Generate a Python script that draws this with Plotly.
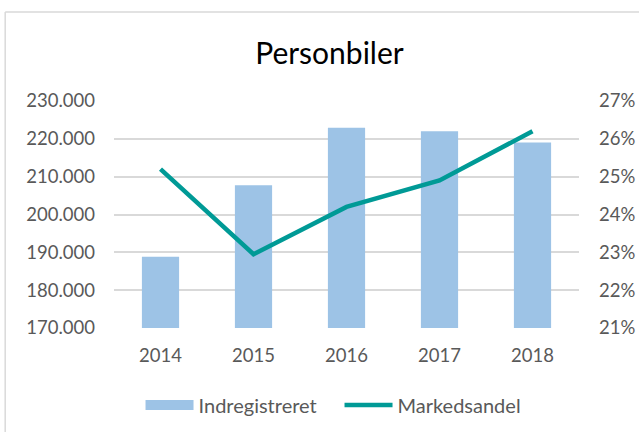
import plotly.graph_objects as go

years = ["2014", "2015", "2016", "2017", "2018"]
indregistreret = [188800, 207700, 222900, 222000, 219000]
markedsandel = [0.252, 0.2295, 0.242, 0.249, 0.262]

left_ticks = [170000, 180000, 190000, 200000, 210000, 220000, 230000]
right_ticks = [0.21, 0.22, 0.23, 0.24, 0.25, 0.26, 0.27]

font = "Lato, Open Sans, sans-serif"
grey = "#595959"
bar_color = "#9DC3E6"
line_color = "#009A96"

fig = go.Figure()
fig.add_trace(go.Bar(x=years, y=indregistreret, name="Indregistreret", showlegend=False,
                     marker=dict(color=bar_color, line=dict(width=0))))
# legend-only swatch for the bars (wide rectangle like the original)
fig.add_trace(go.Scatter(x=[None], y=[None], name="Indregistreret", mode="lines",
                         line=dict(color=bar_color, width=11)))
fig.add_trace(go.Scatter(x=years, y=markedsandel, name="Markedsandel", yaxis="y2",
                         mode="lines", line=dict(color=line_color, width=4.5)))

fig.update_layout(
    width=639, height=432,
    margin=dict(l=114, r=60, t=101, b=104, autoexpand=False),
    paper_bgcolor="white", plot_bgcolor="white",
    separators=",.",
    bargap=0.6,
    title=dict(text="Personbiler", x=0.5156, xanchor="center", y=0.877, yanchor="middle",
               font=dict(family=font, size=30, color="#000000")),
    xaxis=dict(showgrid=False, showline=False, ticks="", ticklabelstandoff=14,
               tickfont=dict(family=font, size=18.5, color=grey)),
    yaxis=dict(range=[170000, 230000], tickvals=left_ticks, tickformat=",d",
               gridcolor="#D9D9D9", gridwidth=1.5, zeroline=False, showline=False,
               tickfont=dict(family=font, size=18.5, color=grey), ticklabelstandoff=18),
    yaxis2=dict(range=[0.21, 0.27], tickvals=right_ticks, tickformat=".0%", overlaying="y",
                side="right", showgrid=False, zeroline=False, showline=False,
                tickfont=dict(family=font, size=18.5, color=grey), ticklabelstandoff=19),
    legend=dict(orientation="h", x=0.485, xanchor="center", y=-0.339, yanchor="middle",
                font=dict(family=font, size=20, color=grey), itemwidth=48,
                entrywidth=136, traceorder="normal"),
    showlegend=True,
    shapes=[
        dict(type="line", xref="paper", yref="paper", x0=-0.234, x1=1.2, y0=1.392, y1=1.392,
             line=dict(color="#D9D9D9", width=1.5)),
        dict(type="line", xref="paper", yref="paper", x0=-0.234, x1=-0.234, y0=1.392, y1=-0.5,
             line=dict(color="#D9D9D9", width=1.5)),
    ],
)

fig.write_html("out.html", config={"displayModeBar": False},
               post_script="document.body.style.margin='0';")
